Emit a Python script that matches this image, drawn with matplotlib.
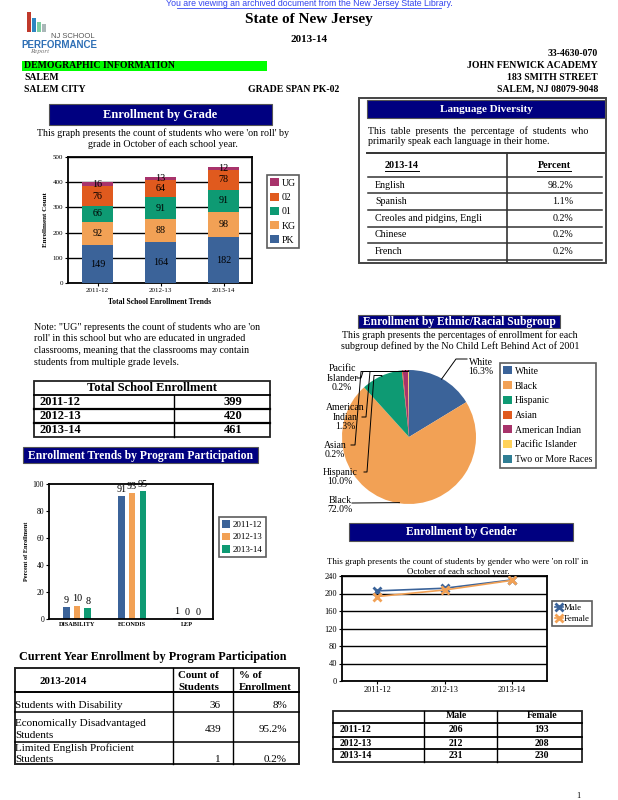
import matplotlib
matplotlib.use("Agg")
import matplotlib.pyplot as plt
from matplotlib.patches import Rectangle, Patch
from matplotlib.lines import Line2D
import numpy as np

plt.rcParams['font.family'] = ['Liberation Serif', 'DejaVu Serif']

# ---- data ----
years = ['2011-12', '2012-13', '2013-14']
grade_names = ['PK', 'KG', '01', '02', 'UG']
pk = [149, 164, 182]
kg = [92, 88, 98]
g01 = [66, 91, 91]
g02 = [76, 64, 78]
ug = [16, 13, 12]

languages = ['English', 'Spanish', 'Creoles and pidgins, Engli', 'Chinese', 'French']
lang_pct = ['98.2%', '1.1%', '0.2%', '0.2%', '0.2%']

total_enroll = [399, 420, 461]

programs = ['DISABILITY', 'ECONDIS', 'LEP']
prog_1112 = [9, 91, 1]
prog_1213 = [10, 93, 0]
prog_1314 = [8, 95, 0]

cur_rows = ['Students with Disability', 'Economically Disadvantaged\nStudents',
            'Limited English Proficient\nStudents']
cur_count = [36, 439, 1]
cur_pct = ['8%', '95.2%', '0.2%']

ethnic = ['White', 'Black', 'Hispanic', 'Asian', 'American Indian',
          'Pacific Islander', 'Two or More Races']
ethnic_pct = [16.3, 72.0, 10.0, 0.2, 1.3, 0.2, 0.0]

male = [206, 212, 231]
female = [193, 208, 230]

# colours
BLUE = '#3B6399'
ORANGE = '#F2A155'
GREEN = '#0E9A73'
RED = '#E05A1E'
MAG = '#A8336B'
YEL = '#FFD25A'
TEAL = '#2F7E94'
NAVY = '#000080'

W, H = 618, 800
fig = plt.figure(figsize=(W / 100, H / 100), dpi=100)


def txt(x, y, s, **kw):
    kw.setdefault('va', 'center')
    fig.text(x / W, 1 - y / H, s, **kw)


def box(x0, y0, x1, y1, **kw):
    fig.add_artist(Rectangle((x0 / W, 1 - y1 / H), (x1 - x0) / W, (y1 - y0) / H,
                             transform=fig.transFigure, **kw))


def line(x0, y0, x1, y1, **kw):
    kw.setdefault('color', 'black')
    kw.setdefault('lw', 1)
    fig.add_artist(Line2D([x0 / W, x1 / W], [1 - y0 / H, 1 - y1 / H],
                          transform=fig.transFigure, **kw))


def axes(x0, y0, x1, y1):
    return fig.add_axes([x0 / W, 1 - y1 / H, (x1 - x0) / W, (y1 - y0) / H])


def navy_title(x0, y0, x1, y1, s, size=9):
    box(x0, y0, x1, y1, facecolor=NAVY, edgecolor='#555555', lw=0.8)
    txt((x0 + x1) / 2, (y0 + y1) / 2 + 0.5, s, ha='center', color='white',
        fontsize=size, fontweight='bold')


# ---- page header ----
txt(309, 4, 'You are viewing an archived document from the New Jersey State Library.',
    ha='center', fontsize=6.3, color='#3344ee', family='Liberation Sans')
line(177, 8, 441, 8, color='#3344ee', lw=0.6)

# logo
for i, (c, h) in enumerate(zip(['#c0392b', '#2e86c1', '#7dcea0', '#aab7b8'], [20, 14, 10, 8])):
    box(27 + i * 5, 32 - h, 31 + i * 5, 32, facecolor=c, edgecolor='none')
txt(95, 37, 'NJ SCHOOL', ha='right', fontsize=5.5, color='#555555', family='Liberation Sans')
txt(59, 45, 'PERFORMANCE', ha='center', fontsize=7, fontweight='bold', color='#2e6fb5',
    family='Liberation Sans')
txt(30, 52, 'Report', ha='left', fontsize=5, style='italic', color='#777777')

txt(309, 20, 'State of New Jersey', ha='center', fontsize=11, fontweight='bold')
txt(309, 39, '2013-14', ha='center', fontsize=8, fontweight='bold')
txt(598, 54, '33-4630-070', ha='right', fontsize=7, fontweight='bold')
box(22, 61, 267, 71, facecolor='#00ff00', edgecolor='none')
txt(24, 66, 'DEMOGRAPHIC INFORMATION', ha='left', fontsize=7, fontweight='bold')
txt(598, 66, 'JOHN FENWICK ACADEMY', ha='right', fontsize=7, fontweight='bold')
txt(24, 78, 'SALEM', ha='left', fontsize=7, fontweight='bold')
txt(598, 78, '183 SMITH STREET', ha='right', fontsize=7, fontweight='bold')
txt(24, 89, 'SALEM CITY', ha='left', fontsize=7, fontweight='bold')
txt(248, 89, 'GRADE SPAN PK-02', ha='left', fontsize=7, fontweight='bold')
txt(598, 89, 'SALEM, NJ 08079-9048', ha='right', fontsize=7, fontweight='bold')

# ---- Enrollment by Grade ----
navy_title(49, 104, 272, 125, 'Enrollment by Grade')
txt(163, 133, "This graph presents the count of students who were 'on roll' by",
    ha='center', fontsize=7.2)
txt(163, 144, 'grade in October of each school year.', ha='center', fontsize=7.2)

ax = axes(68, 157, 252, 283)
x = np.arange(len(years))
bottom = np.zeros(len(years))
grade_cols = [BLUE, ORANGE, GREEN, RED, MAG]
handles = []
for name, vals, col in zip(grade_names, [pk, kg, g01, g02, ug], grade_cols):
    bars = ax.bar(x, vals, 0.49, bottom=bottom, color=col, zorder=3)
    for b, v, bt in zip(bars, vals, bottom):
        ax.text(b.get_x() + b.get_width() / 2, bt + v / 2, str(v), ha='center',
                va='center', fontsize=7.3, zorder=4)
    bottom += np.array(vals)
    handles.append(Patch(facecolor=col, edgecolor='none', label=name))
ax.set_xlim(-0.47, 2.45)
ax.set_ylim(0, 500)
ax.set_yticks(range(0, 501, 100))
ax.set_xticks(x)
ax.set_xticklabels(years)
ax.tick_params(labelsize=5, length=2, pad=1.5)
ax.yaxis.grid(True, color='black', lw=1.0, zorder=0)
for s in ax.spines.values():
    s.set_linewidth(1.3)
ax.set_ylabel('Enrollment Count', fontsize=5, fontweight='bold', labelpad=3)
ax.set_xlabel('Total School Enrollment Trends', fontsize=5.5, fontweight='bold', labelpad=4)
leg = ax.legend(handles[::-1], grade_names[::-1], loc='upper left',
                bbox_to_anchor=(267 / W, 1 - 175 / H), bbox_transform=fig.transFigure,
                borderaxespad=0, fontsize=7, fancybox=False, edgecolor='#333333',
                handlelength=0.9, handleheight=0.9, handletextpad=0.3,
                labelspacing=0.5, borderpad=0.35)
leg.get_frame().set_linewidth(1.2)

# ---- Language Diversity ----
box(359, 98, 606, 263, facecolor='none', edgecolor='#444444', lw=1.4)
navy_title(367, 100, 605, 118, 'Language Diversity', size=8)
txt(368, 131, 'This  table  presents  the  percentage  of  students  who',
    ha='left', fontsize=7.2)
txt(368, 142, 'primarily speak each language in their home.', ha='left', fontsize=7.2)
line(367, 153, 604, 153, lw=1.4, color='#333333')
txt(402, 166, '2013-14', ha='center', fontsize=7.3, fontweight='bold')
line(385, 171, 419, 171, lw=0.7)
txt(554, 166, 'Percent', ha='center', fontsize=7.3, fontweight='bold')
line(537, 171, 571, 171, lw=0.7)
line(507, 153, 507, 262, lw=1.2, color='#333333')
for i, (lang, p) in enumerate(zip(languages, lang_pct)):
    yc = 185 + i * 16.6
    txt(375, yc, lang, ha='left', fontsize=7.2)
    txt(573, yc, p, ha='right', fontsize=7.2)
    line(368, yc - 8.3, 602, yc - 8.3, lw=1.1, color='#333333')
line(368, 260, 602, 260, lw=1.1, color='#333333')

# ---- note + total enrollment ----
note = ["Note: \"UG\" represents the count of students who are 'on",
        "roll' in this school but who are educated in ungraded",
        "classrooms, meaning that the classrooms may contain",
        "students from multiple grade levels."]
for i, s in enumerate(note):
    txt(34, 327 + i * 11.8, s, ha='left', fontsize=7.2)

box(34, 381, 270, 437, facecolor='none', edgecolor='#222222', lw=1.3)
txt(152, 388, 'Total School Enrollment', ha='center', fontsize=9, fontweight='bold')
line(34, 395, 270, 395, lw=1.3)
line(174, 395, 174, 437, lw=1.0)
for i, (yr, t) in enumerate(zip(years, total_enroll)):
    yc = 402 + i * 14
    txt(40, yc, yr, ha='left', fontsize=9, fontweight='bold')
    txt(233, yc, str(t), ha='center', fontsize=9, fontweight='bold')
    if i < 2:
        line(34, yc + 7, 270, yc + 7, lw=1.6)

# ---- Enrollment Trends by Program Participation ----
navy_title(23, 447, 258, 463, 'Enrollment Trends by Program Participation', size=8.4)
ax2 = axes(49, 484, 213, 619)
px = np.arange(len(programs))
prog_handles = []
for off, vals, col, yr in zip([-0.195, 0, 0.195], [prog_1112, prog_1213, prog_1314],
                              [BLUE, ORANGE, GREEN], years):
    bars = ax2.bar(px + off, vals, 0.12, color=col)
    for b, v in zip(bars, vals):
        ax2.text(b.get_x() + b.get_width() / 2, v + 1.5, str(v), ha='center',
                 va='bottom', fontsize=7.3)
    prog_handles.append(Patch(facecolor=col, label=yr))
ax2.set_xlim(-0.51, 2.47)
ax2.set_ylim(0, 100)
ax2.set_yticks(range(0, 101, 20))
ax2.set_xticks(px)
ax2.set_xticklabels(programs, fontweight='bold', fontsize=4.5)
ax2.tick_params(axis='y', labelsize=5.5, length=2, pad=1.5)
ax2.tick_params(axis='x', length=0, pad=2)
for s in ax2.spines.values():
    s.set_linewidth(1.3)
ax2.set_ylabel('Percent of Enrollment', fontsize=4.5, fontweight='bold', labelpad=3)
leg2 = ax2.legend(handles=prog_handles, loc='upper left',
                  bbox_to_anchor=(219 / W, 1 - 517 / H), bbox_transform=fig.transFigure,
                  borderaxespad=0, fontsize=6.5, fancybox=False, edgecolor='#333333',
                  handlelength=0.9, handleheight=0.9, handletextpad=0.3,
                  labelspacing=0.4, borderpad=0.35)
leg2.get_frame().set_linewidth(1.2)

# ---- Current Year Enrollment table ----
txt(19, 657, 'Current Year Enrollment by Program Participation', ha='left',
    fontsize=8.7, fontweight='bold')
box(15, 668, 299, 764, facecolor='none', edgecolor='#222222', lw=1.4)
line(173, 668, 173, 764, lw=1.0)
line(233, 668, 233, 764, lw=1.0)
line(15, 692, 299, 692, lw=1.4)
line(15, 712, 299, 712, lw=1.1)
line(15, 742, 299, 742, lw=1.1)
txt(63, 682, '2013-2014', ha='center', fontsize=7.8, fontweight='bold')
txt(178, 675, 'Count of', ha='left', fontsize=7.8, fontweight='bold')
txt(178, 687, 'Students', ha='left', fontsize=7.8, fontweight='bold')
txt(239, 675, '% of', ha='left', fontsize=7.8, fontweight='bold')
txt(239, 687, 'Enrollment', ha='left', fontsize=7.8, fontweight='bold')
row_label_y = [[705], [723, 736], [748, 760]]
row_val_y = [705, 730, 760]
for lab, ly, vy, c, p in zip(cur_rows, row_label_y, row_val_y, cur_count, cur_pct):
    for part, yy in zip(lab.split('\n'), ly):
        txt(15, yy, part, ha='left', fontsize=8)
    txt(221, vy, str(c), ha='right', fontsize=8)
    txt(287, vy, p, ha='right', fontsize=8)

# ---- Ethnic / racial pie ----
navy_title(358, 315, 560, 328, 'Enrollment by Ethnic/Racial Subgroup', size=8.3)
txt(460, 335, 'This graph presents the percentages of enrollment for each',
    ha='center', fontsize=7.2)
txt(460, 346, 'subgroup defined by the No Child Left Behind Act of 2001',
    ha='center', fontsize=7.2)

CX, CY, R = 409, 437, 67
ax3 = axes(322, 355, 496, 515)
eth_cols = [BLUE, ORANGE, GREEN, RED, MAG, YEL, TEAL]
wedges, _ = ax3.pie(ethnic_pct, colors=eth_cols, startangle=90, counterclock=False,
                    radius=1, wedgeprops=dict(linewidth=0))
ax3.set_xlim((322 - CX) / R, (496 - CX) / R)
ax3.set_ylim((CY - 515) / R, (CY - 355) / R)
ax3.set_axis_off()


def to_pie(px_, py_):
    return (px_ - CX) / R, (CY - py_) / R


# label: text centre, leader path in page pixels (ends at the wedge edge)
pie_labels = [
    ('White', 'White', (481, 367), [(467, 359), (456, 359)]),
    ('Pacific\nIslander', 'Pacific Islander', (342, 378), [(357, 378), (361, 378), (363, 371.5)]),
    ('American\nIndian', 'American Indian', (345, 417), [(362, 417), (366, 417), (370, 371.5)]),
    ('Asian', 'Asian', (335, 450), [(351, 445), (355, 445), (361, 371.5)]),
    ('Hispanic', 'Hispanic', (340, 477), [(364, 472), (367, 472), (374, 375.5)]),
    ('Black', 'Black', (340, 505), [(352, 503)]),
]
for key, grp, (tx, ty), path in pie_labels:
    i = ethnic.index(grp)
    w = wedges[i]
    mid = np.deg2rad((w.theta1 + w.theta2) / 2)
    ex, ey = 0.99 * np.cos(mid), 0.99 * np.sin(mid)
    pts = [to_pie(*p) for p in path] + [(ex, ey)]
    if grp not in ('White', 'Black'):
        # run along horizontally at the height of the last elbow
        pts.insert(-1, (ex, pts[-2][1]))
    xs, ys = zip(*pts)
    ax3.plot(xs, ys, color='black', lw=0.7, clip_on=False)
    ax3.text(*to_pie(tx, ty), f'{key}\n{ethnic_pct[i]:.1f}%', ha='center',
             va='center', fontsize=7, linespacing=1.1)

eth_handles = [Patch(facecolor=c, label=n) for c, n in zip(eth_cols, ethnic)]
leg3 = ax3.legend(handles=eth_handles, loc='upper left',
                  bbox_to_anchor=(500 / W, 1 - 363 / H), bbox_transform=fig.transFigure,
                  borderaxespad=0, fontsize=7, fancybox=False, edgecolor='#333333',
                  handlelength=0.9, handleheight=0.9, handletextpad=0.3,
                  labelspacing=0.55, borderpad=0.35)
leg3.get_frame().set_linewidth(1.2)

# ---- Enrollment by Gender ----
navy_title(349, 523, 573, 541, 'Enrollment by Gender', size=8.3)
txt(458, 562, "This graph presents the count of students by gender who were 'on roll' in",
    ha='center', fontsize=6.4)
txt(458, 572, 'October of each school year.', ha='center', fontsize=6.4)
ax4 = axes(342, 576, 547, 681)
gx = np.arange(len(years))
ax4.plot(gx, male, color=BLUE, lw=1.2, marker='x', ms=5.5, mew=2, label='Male', zorder=3)
ax4.plot(gx, female, color=ORANGE, lw=1.2, marker='x', ms=5.5, mew=2, label='Female', zorder=3)
ax4.set_xlim(-0.52, 2.52)
ax4.set_ylim(0, 240)
ax4.set_yticks(range(0, 241, 40))
ax4.set_xticks(gx)
ax4.set_xticklabels(years)
ax4.tick_params(labelsize=6, length=2, pad=1.5)
ax4.yaxis.grid(True, color='black', lw=1.0, zorder=0)
for s in ax4.spines.values():
    s.set_linewidth(1.3)
leg4 = ax4.legend(loc='upper left', bbox_to_anchor=(552 / W, 1 - 601 / H),
                  bbox_transform=fig.transFigure, borderaxespad=0, fontsize=6.3,
                  fancybox=False, edgecolor='#333333', handlelength=0.9,
                  handletextpad=0.1, labelspacing=0.4, borderpad=0.3)
leg4.get_frame().set_linewidth(1.2)

# gender table
box(333, 711, 582, 762, facecolor='none', edgecolor='#222222', lw=1.3)
line(424, 711, 424, 762, lw=1.0)
line(497, 711, 497, 762, lw=1.0)
for yy in [723, 737, 749]:
    line(333, yy, 582, yy, lw=1.3)
txt(456, 716, 'Male', ha='center', fontsize=7, fontweight='bold')
txt(542, 716, 'Female', ha='center', fontsize=7, fontweight='bold')
for i, (yr, m, f) in enumerate(zip(years, male, female)):
    yc = 730 + i * 13
    txt(340, yc, yr, ha='left', fontsize=7, fontweight='bold')
    txt(456, yc, str(m), ha='center', fontsize=7, fontweight='bold')
    txt(542, yc, str(f), ha='center', fontsize=7, fontweight='bold')

txt(578, 796, '1', ha='center', fontsize=6)

fig.savefig('out.png', dpi=100, facecolor='white')
